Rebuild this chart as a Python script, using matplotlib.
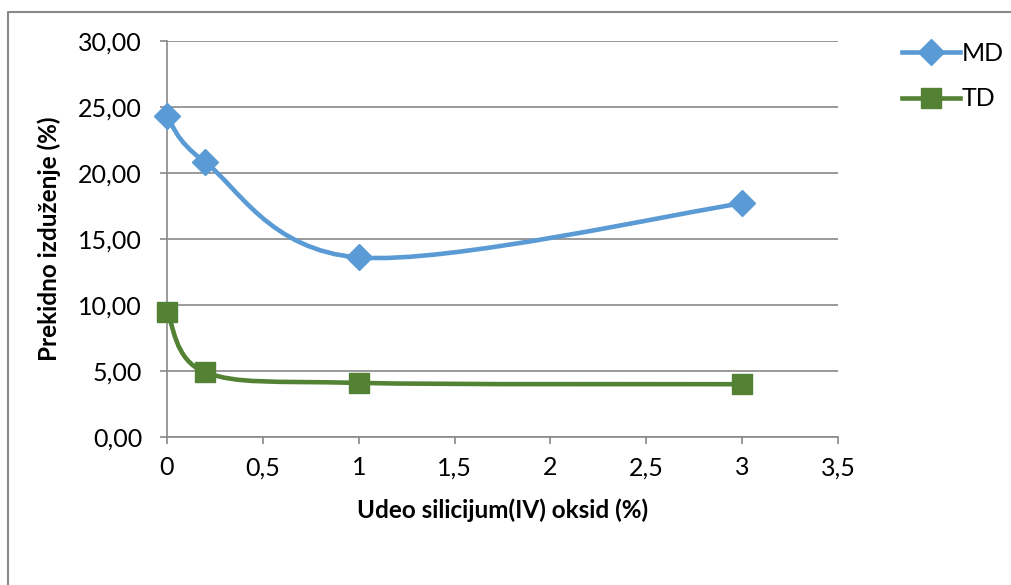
import numpy as np
import matplotlib.pyplot as plt
from matplotlib.path import Path
from matplotlib.patches import PathPatch
from matplotlib.lines import Line2D
from matplotlib.ticker import FuncFormatter, MultipleLocator

plt.rcParams['font.family'] = ['Lato', 'DejaVu Sans']

# data
udeo = [0, 0.2, 1, 3]
md = [24.3, 20.8, 13.6, 17.7]
td = [9.5, 4.9, 4.1, 4.0]

blue = '#5B9BD5'
green = '#548235'
gray = '#898989'


def smooth_path(x, y):
    # Excel-like smoothed line: cubic Bezier through the points
    pts = np.column_stack([x, y]).astype(float)
    n = len(pts)
    verts = [pts[0]]
    codes = [Path.MOVETO]
    for i in range(n - 1):
        p0 = pts[i - 1] if i > 0 else pts[i]
        p1 = pts[i]
        p2 = pts[i + 1]
        p3 = pts[i + 2] if i + 2 < n else pts[i + 1]
        c1 = p1 + (p2 - p0) / 6
        c2 = p2 - (p3 - p1) / 6
        verts += [c1, c2, p2]
        codes += [Path.CURVE4] * 3
    return Path(verts, codes)


fig = plt.figure(figsize=(10.11, 5.85), dpi=100)
ax = fig.add_axes([167 / 1011, 1 - 437 / 585, 671 / 1011, 396 / 585])

for x, y, c, m, ms in [(udeo, md, blue, 'D', 13), (udeo, td, green, 's', 14.5)]:
    ax.add_patch(PathPatch(smooth_path(x, y), facecolor='none', edgecolor=c,
                           lw=3.3, capstyle='round', zorder=3))
    ax.plot(x, y, ls='none', marker=m, ms=ms, color=c, zorder=4, clip_on=False)

ax.set_xlim(0, 3.5)
ax.set_ylim(0, 30)
ax.xaxis.set_major_locator(MultipleLocator(0.5))
ax.yaxis.set_major_locator(MultipleLocator(5))
ax.xaxis.set_major_formatter(FuncFormatter(lambda v, p: ('%g' % v).replace('.', ',')))
ax.yaxis.set_major_formatter(FuncFormatter(lambda v, p: ('%.2f' % v).replace('.', ',')))
ax.grid(axis='y', color=gray, lw=1.2)
ax.set_axisbelow(True)
for s in ['top', 'right']:
    ax.spines[s].set_visible(False)
for s in ['left', 'bottom']:
    ax.spines[s].set_color(gray)
    ax.spines[s].set_linewidth(1.2)
ax.tick_params(axis='both', direction='out', length=5, width=1.2, color=gray,
               labelsize=18, colors='black')
ax.tick_params(axis='y', pad=13)
ax.tick_params(axis='x', pad=9)
for t in ax.get_xticklabels() + ax.get_yticklabels():
    t.set_color('black')

ax.set_xlabel('Udeo silicijum(IV) oksid (%)', fontsize=17.5, fontweight='bold', labelpad=14)
ax.set_ylabel('Prekidno izduženje (%)', fontsize=17.5, fontweight='bold', labelpad=12)

handles = [Line2D([], [], color=blue, lw=3.3, marker='D', ms=13),
           Line2D([], [], color=green, lw=3.3, marker='s', ms=14.5)]
fig.legend(handles, ['MD', 'TD'], loc='upper left', bbox_to_anchor=(902 / 1011, 1 - 42 / 585),
           frameon=False, fontsize=18, handlelength=2.3, handletextpad=0.1,
           labelspacing=0.9, borderaxespad=0, borderpad=0)

# outer chart border (left and top only visible)
fig.add_artist(Line2D([8 / 1011, 8 / 1011, 1], [0, 1 - 12 / 585, 1 - 12 / 585],
                      transform=fig.transFigure, color=gray, lw=1.5))

fig.savefig('out.png', dpi=100)
